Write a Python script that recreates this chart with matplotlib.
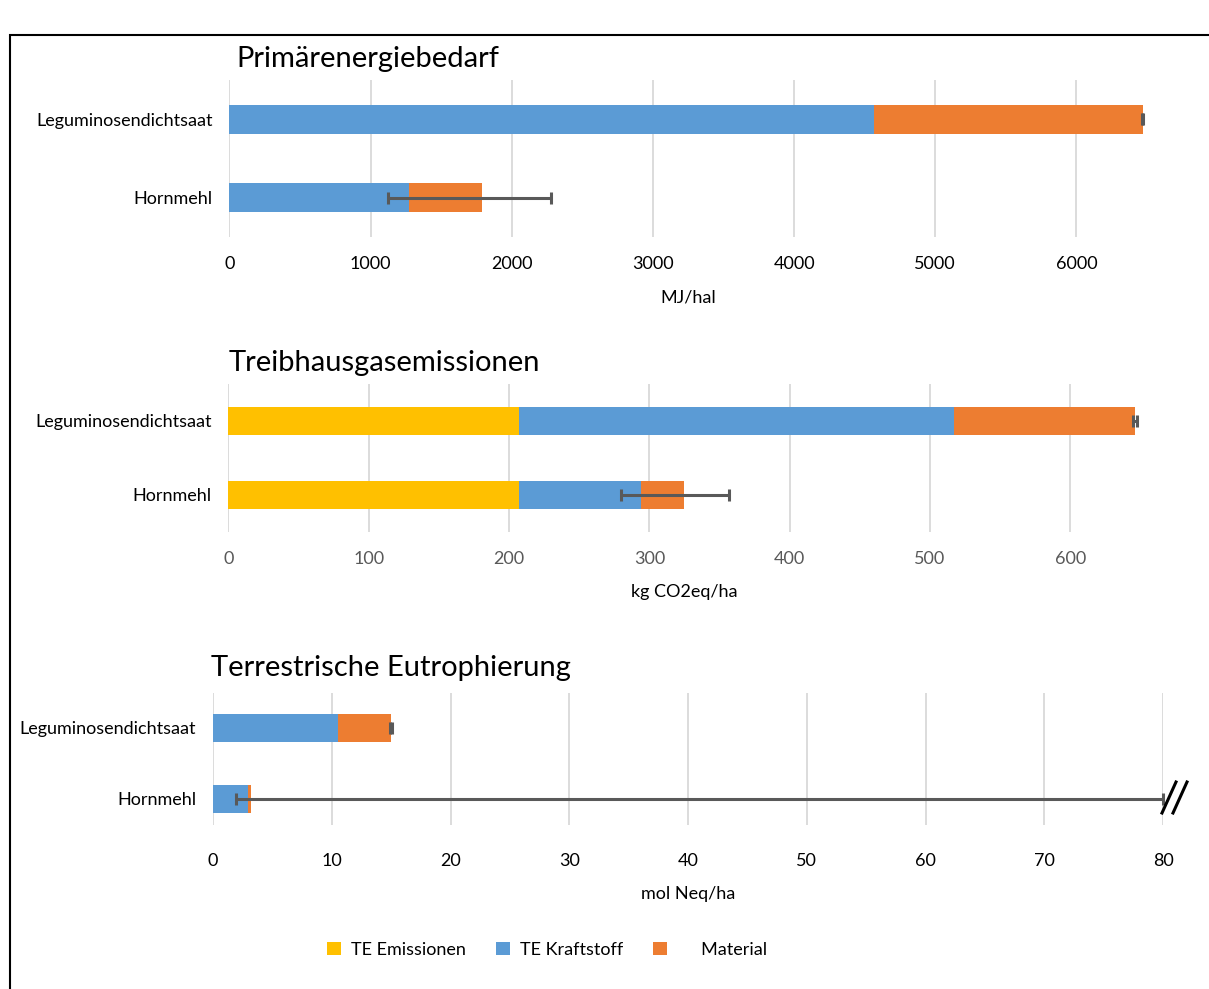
import matplotlib
matplotlib.use("Agg")
import matplotlib.pyplot as plt
from matplotlib.patches import Patch, Rectangle
from matplotlib.lines import Line2D

plt.rcParams['font.family'] = ['Lato', 'DejaVu Sans']

categories = ['Hornmehl', 'Leguminosendichtsaat']
series_names = ['TE Emissionen', 'TE Kraftstoff', '     Material']
colors = ['#FFC000', '#5B9BD5', '#ED7D31']

# Primärenergiebedarf (MJ/ha)
pe_emis = [0, 0]
pe_fuel = [1274, 4568]
pe_mat = [513, 1901]
pe_err_lo = [666, 5]
pe_err_hi = [491, 5]

# Treibhausgasemissionen (kg CO2eq/ha)
thg_emis = [207, 207]
thg_fuel = [87, 310]
thg_mat = [30.5, 129]
thg_err_lo = [44.5, 1.5]
thg_err_hi = [32.5, 1.5]

# Terrestrische Eutrophierung (mol Neq/ha)
te_emis = [0, 0]
te_fuel = [2.98, 10.55]
te_mat = [0.25, 4.45]
te_err_lo = [1.3, 0.1]
te_err_hi = [76.8, 0.1]

W, H = 1209, 989
fig = plt.figure(figsize=(W / 100, H / 100), dpi=100)


def px_axes(x0, y0, x1, y1):
    return fig.add_axes([x0 / W, 1 - y1 / H, (x1 - x0) / W, (y1 - y0) / H])


def panel(ax, emis, fuel, mat, elo, ehi, xmax, step, title, xlabel, tickcol,
          ylim, bh, tx, tpad, xpad):
    y = [0, 1]
    ax.barh(y, emis, height=bh, color=colors[0], zorder=2)
    ax.barh(y, fuel, left=emis, height=bh, color=colors[1], zorder=2)
    left2 = [a + b for a, b in zip(emis, fuel)]
    ax.barh(y, mat, left=left2, height=bh, color=colors[2], zorder=2)
    tot = [a + b for a, b in zip(left2, mat)]
    ax.errorbar(tot, y, xerr=[elo, ehi], fmt='none', ecolor='#595959',
                elinewidth=2.2, capsize=4, capthick=2.2, zorder=3, clip_on=False)
    ax.set_xlim(0, xmax)
    ax.set_ylim(*ylim)
    ax.set_xticks(range(0, int(xmax) + 1, step))
    ax.set_yticks(y)
    ax.set_yticklabels(categories, fontsize=13)
    ax.tick_params(axis='x', length=0, labelsize=13, labelcolor=tickcol, pad=xpad)
    ax.tick_params(axis='y', length=0, pad=12)
    ax.grid(axis='x', color='#D9D9D9', linewidth=1.3, zorder=0)
    ax.set_axisbelow(True)
    for s in ax.spines.values():
        s.set_visible(False)
    ax.set_xlabel(xlabel, fontsize=13, labelpad=12)
    ax.set_title(title, fontsize=21, loc='left', x=tx, pad=tpad)


ax1 = px_axes(229.5, 80, 1147, 237)
panel(ax1, pe_emis, pe_fuel, pe_mat, pe_err_lo, pe_err_hi, 6500, 1000,
      'Primärenergiebedarf', 'MJ/hal', 'black', (-0.5, 1.5), 0.37, 0.008, 9, 14)

ax2 = px_axes(228.4, 384, 1140.4, 532)
panel(ax2, thg_emis, thg_fuel, thg_mat, thg_err_lo, thg_err_hi, 650, 100,
      'Treibhausgasemissionen', 'kg CO2eq/ha', '#595959', (-0.5, 1.5), 0.39, 0.0, 9, 14)

ax3 = px_axes(213, 693, 1163, 825)
panel(ax3, te_emis, te_fuel, te_mat, te_err_lo, te_err_hi, 80, 10,
      'Terrestrische Eutrophierung', 'mol Neq/ha', 'black', (-0.37, 1.49), 0.39, -0.002, 12, 20.5)

# break mark at the clipped error bar
for xa, xb in [(1162, 1176), (1173, 1187)]:
    fig.add_artist(Line2D([xa / W, xb / W], [1 - 813 / H, 1 - 782 / H],
                          color='black', linewidth=2.2, transform=fig.transFigure))

# frame around the figure
fig.add_artist(Rectangle((10 / W, -0.01), 1.1, 1 - 35 / H + 0.01, fill=False,
                         edgecolor='black', linewidth=1.5, transform=fig.transFigure))

handles = [Patch(facecolor=c) for c in colors]
fig.legend(handles, series_names, loc='center', bbox_to_anchor=(547 / W, 1 - 950 / H),
           ncol=3, frameon=False, fontsize=13, handlelength=0.75, handleheight=0.75,
           handletextpad=0.6, columnspacing=1.65)

fig.savefig('out.png', dpi=100)
